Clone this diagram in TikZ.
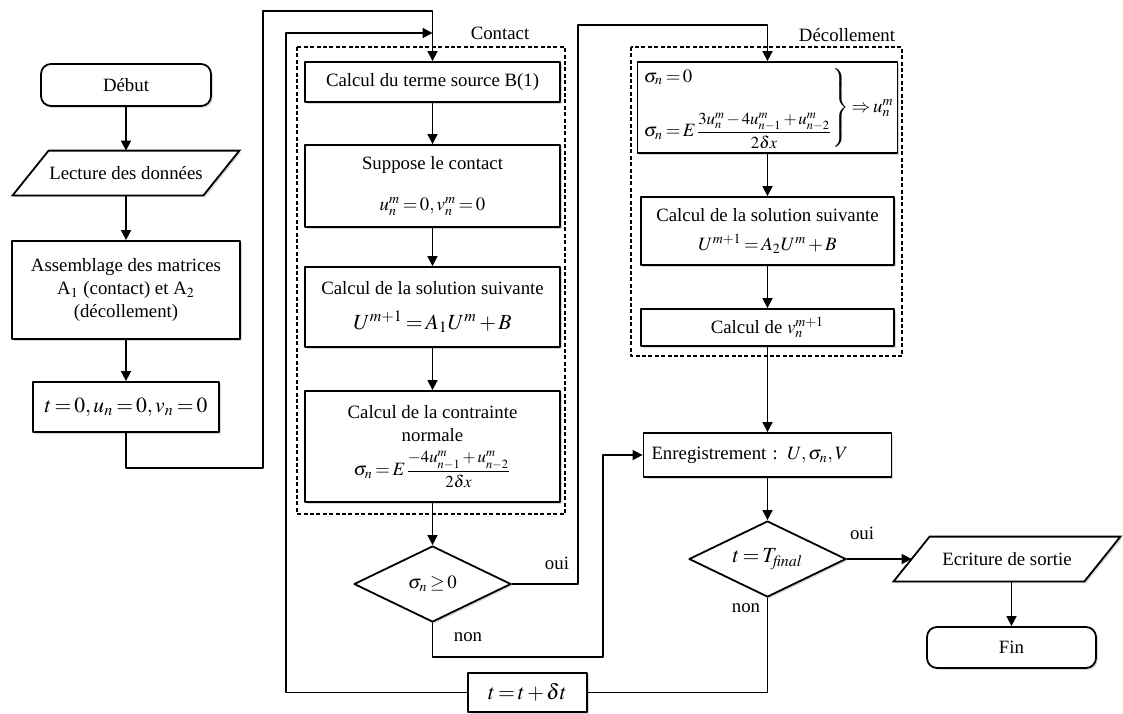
\documentclass[tikz,border=0pt]{standalone}
\usepackage{amsmath}
\usepackage{mathptmx}
\usepackage[no-math]{fontspec}
\setmainfont{Liberation Serif}
\usetikzlibrary{shapes.geometric,arrows.meta,shadows,backgrounds}
\newcommand\smfrac[2]{\mbox{\fontsize{8.4}{9}\selectfont$\displaystyle\frac{#1}{#2}$}}
\thickmuskip=2.5mu plus 1mu
\medmuskip=2mu plus 1mu
\begin{document}
\begin{tikzpicture}[x=0.5pt, y=-0.5pt, font=\fontsize{9.4}{11.3}\selectfont, line join=round, line cap=round,
	>={Triangle[length=5pt,width=5pt]},
	sz/.style 2 args={minimum width=#1*0.5pt, minimum height=#2*0.5pt},
	shd/.style={fill=white, drop shadow={shadow xshift=0.9pt, shadow yshift=-0.9pt, opacity=0.3}},
	blk/.style={draw, line width=0.9pt, rectangle, align=center, inner sep=2pt, shd},
	term/.style={blk, rounded corners=5pt},
	iotxt/.style={rectangle, inner sep=1pt},
	io/.style={draw, line width=0.9pt, shd},
	cond/.style={draw, line width=0.9pt, diamond, aspect=2, inner sep=0pt, shd},
	grp/.style={draw, line width=0.8pt, line cap=butt, dash pattern=on 2pt off 1.2pt},
	arr/.style={->, line width=0.8pt},
	wire/.style={line width=0.8pt},
	lbl/.style={inner sep=1pt}]
	\def\big{\fontsize{10.8}{13}\selectfont}
	\def\slnt{9pt}
	\useasboundingbox (0,0) rectangle (1123,713);
	\draw[grp] (297,47) rectangle (565,514);
	\draw[grp] (631,47) rectangle (902,356);
	\node (tagC) at (500,33) {Contact};
	\node (tagD) at (847,35) {Décollement};
	\node[term, sz={170}{42}] (start) at (126,85) {Début};
	\node[iotxt, sz={190}{44}] (read) at (126,173) {Lecture des données};
	\node[blk, sz={228}{98}] (asm) at (126,290) {Assemblage des matrices\\A$_1$ (contact) et A$_2$\\(décollement)};
	\node[blk, sz={186}{50}] (init) at (126,407) {\big$t = 0, u_n = 0, v_n = 0$};
	\node[blk, sz={255}{40}] (src) at (432.5,82) {Calcul du terme source B(1)};
	\node[blk, sz={255}{82}] (supp) at (432.5,186) {Suppose le contact\\[9pt]$u_n^m = 0, v_n^m = 0$};
	\node[blk, sz={255}{80}] (solA) at (432.5,307) {Calcul de la solution suivante\\[6pt]{\big$U^{m+1} = A_1U^m + B$}};
	\node[blk, sz={255}{111}] (strs) at (432.5,446.5) {Calcul de la contrainte\\normale\\[4pt]$\sigma_n = E\smfrac{-4u_{n-1}^m + u_{n-2}^m}{2\delta x}$};
	\node[cond, sz={157}{76}] (sig) at (432.5,584) {$\sigma_n \geq 0$};
	\node[blk, sz={253}{91}] (eqs) at (767.5,107.5) {$\left.\begin{array}{@{}l@{}}\sigma_n = 0\\[12pt]\sigma_n = E\smfrac{3u_n^m - 4u_{n-1}^m + u_{n-2}^m}{2\delta x}\end{array}\right\}\Rightarrow u_n^m$};
	\node[blk, sz={253}{68}] (solB) at (767.5,231) {Calcul de la solution suivante\\[3pt]$U^{m+1} = A_2U^m + B$};
	\node[blk, sz={253}{37}] (vcal) at (767.5,327.5) {Calcul de $v_n^{m+1}$};
	\node[blk, sz={248}{44}, align=left, text width=116pt, inner xsep=4pt] (rec) at (767.5,455) {Enregistrement : $U,\sigma_n,V$};
	\node[cond, sz={157}{76}] (tend) at (767.5,559) {\big$t = T_{\mathit{final}}$};
	\node[iotxt, sz={190}{44}] (out) at (1007,559) {Ecriture de sortie};
	\node[term, sz={169}{41}] (stop) at (1011.5,647.5) {Fin};
	\node[blk, sz={119}{39}] (incr) at (527.5,692.5) {\big$t = t + \delta t$};
	\begin{scope}[on background layer]
		\path[io] ([xshift=-\slnt]read.south west) -- ([xshift=\slnt]read.north west) -- ([xshift=\slnt]read.north east) -- ([xshift=-\slnt]read.south east) -- cycle;
		\path[io] ([xshift=-\slnt]out.south west) -- ([xshift=\slnt]out.north west) -- ([xshift=\slnt]out.north east) -- ([xshift=-\slnt]out.south east) -- cycle;
	\end{scope}
	\draw[arr] (start) -- (read);
	\draw[arr] (read) -- (asm);
	\draw[arr] (asm) -- (init);
	\draw[arr] (init.south) |- (263,468) |- (src.north |- 0,11) -- (src.north);
	\draw[arr] (incr.west) -| (286,33) -- (src.north |- 0,33);
	\draw[arr] (src) -- (supp);
	\draw[arr] (supp) -- (solA);
	\draw[arr] (solA) -- (strs);
	\draw[arr] (strs) -- (sig);
	\draw[arr] (sig.east) -| (578,25) -| (eqs.north);
	\node[lbl] (yes1) at (557,563) {oui};
	\draw[arr] (sig.south) |- (603,657) |- (rec.west);
	\node[lbl] (no1) at (468,637) {non};
	\draw[arr] (eqs) -- (solB);
	\draw[arr] (solB) -- (vcal);
	\draw[arr] (vcal) -- (rec);
	\draw[arr] (rec) -- (tend);
	\draw[arr] (tend) -- (out);
	\node[lbl] (yes2) at (862,533) {oui};
	\draw[wire] (tend.south) |- (incr.east);
	\node[lbl] (no2) at (746,608) {non};
	\draw[arr] (stop.north |- out.south) -- (stop.north);
\end{tikzpicture}
\end{document}
